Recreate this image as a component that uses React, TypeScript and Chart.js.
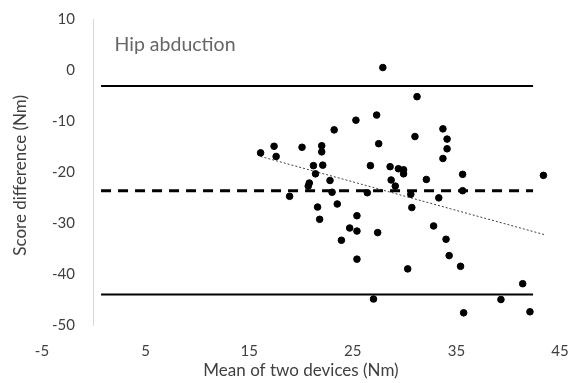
import React, { useEffect, useRef } from "react";
import { Chart, registerables } from "chart.js";

Chart.register(...registerables);

// Bland-Altman data: mean of the two devices (x) and score difference (y), Nm
const meanValues = [
  16.1, 17.4, 17.6, 20.1, 22.0, 22.0, 23.2, 25.3, 21.2, 22.1,
  21.4, 22.8, 20.8, 20.7, 18.9, 23.0, 21.6, 23.5, 25.4, 21.8,
  24.7, 25.4, 23.9, 25.4, 27.9, 31.2, 27.3, 27.5, 31.0, 33.7,
  34.1, 34.1, 33.7, 26.7, 28.6, 29.4, 29.9, 29.9, 28.7, 32.1,
  35.6, 43.4, 29.1, 26.4, 30.6, 35.6, 33.3, 30.7, 27.4, 32.8,
  34.0, 34.3, 35.4, 30.3, 41.4, 27.0, 39.3, 35.7, 42.1,
];
const diffValues = [
  -16.2, -14.9, -16.9, -15.1, -14.8, -16.0, -11.7, -9.8, -18.7, -18.6,
  -20.3, -21.6, -22.1, -22.7, -24.7, -23.9, -26.8, -26.2, -28.5, -29.2,
  -30.9, -31.5, -33.3, -37.0, 0.5, -5.2, -8.8, -14.4, -13.0, -11.5,
  -13.5, -15.4, -17.3, -18.7, -18.9, -19.3, -19.5, -20.3, -21.5, -21.4,
  -20.4, -20.6, -22.7, -24.0, -24.3, -23.6, -25.0, -26.9, -31.8, -30.5,
  -33.1, -36.3, -38.4, -38.9, -41.8, -44.8, -44.9, -47.5, -47.3,
];

// Limits of agreement and bias
const upperLimit = -3.1;
const meanBias = -23.6;
const lowerLimit = -43.9;
const limitLineX = [0.7, 42.4];

// Linear trend line (endpoints)
const trendX = [16.1, 43.5];
const trendY = [-16.9, -32.2];

// Axis ticks
const xTicks = [-5, 5, 15, 25, 35, 45];
const yTicks = [10, 0, -10, -20, -30, -40, -50];

const panelLabel = "Hip abduction";
const xTitle = "Mean of two devices (Nm)";
const yTitle = "Score difference (Nm)";

const FONT = "Lato, 'Open Sans', sans-serif";
const TEXT = "#404040";

export default function App() {
  const ref = useRef<HTMLCanvasElement | null>(null);

  useEffect(() => {
    if (!ref.current) return;
    const hLine = (y: number) => limitLineX.map((x) => ({ x, y }));

    const textPlugin = {
      id: "extraText",
      afterDraw(chart: any) {
        const { ctx, scales, chartArea } = chart;
        ctx.save();
        // panel label
        ctx.font = `19.5px ${FONT}`;
        ctx.fillStyle = "#666666";
        ctx.textAlign = "left";
        ctx.textBaseline = "middle";
        ctx.fillText(panelLabel, scales.x.getPixelForValue(2), scales.y.getPixelForValue(4.9));
        // y-axis title
        ctx.font = `17px ${FONT}`;
        ctx.fillStyle = TEXT;
        ctx.textAlign = "center";
        ctx.translate(21, (chartArea.top + chartArea.bottom) / 2 + 3);
        ctx.rotate(-Math.PI / 2);
        ctx.fillText(yTitle, 0, 0);
        ctx.restore();
      },
    };

    const chart = new Chart(ref.current, {
      type: "scatter",
      data: {
        datasets: [
          {
            data: meanValues.map((x, i) => ({ x, y: diffValues[i] })),
            backgroundColor: "#000",
            borderColor: "#000",
            pointRadius: 3.3,
            pointHoverRadius: 3.3,
            order: 0,
          },
          {
            data: hLine(upperLimit),
            showLine: true,
            borderColor: "#000",
            borderWidth: 2,
            pointRadius: 0,
            order: 1,
          },
          {
            data: hLine(meanBias),
            showLine: true,
            borderColor: "#000",
            borderWidth: 3,
            borderDash: [10, 7],
            pointRadius: 0,
            order: 1,
          },
          {
            data: hLine(lowerLimit),
            showLine: true,
            borderColor: "#000",
            borderWidth: 2,
            pointRadius: 0,
            order: 1,
          },
          {
            data: trendX.map((x, i) => ({ x, y: trendY[i] })),
            showLine: true,
            borderColor: "#404040",
            borderWidth: 1,
            borderDash: [2, 2],
            pointRadius: 0,
            order: 1,
          },
        ],
      },
      options: {
        animation: false,
        responsive: true,
        maintainAspectRatio: false,
        layout: { padding: { left: 22, right: 13, top: 19, bottom: 2 } },
        plugins: {
          legend: { display: false },
          tooltip: { enabled: false },
        },
        scales: {
          x: {
            type: "linear",
            position: "bottom",
            min: -5,
            max: 45,
            afterBuildTicks: (s: any) => {
              s.ticks = xTicks.map((v) => ({ value: v }));
            },
            grid: { display: false, drawTicks: true, tickLength: 17 },
            border: { display: false },
            ticks: {
              padding: 0,
              color: TEXT,
              font: { family: FONT, size: 15 },
            },
            title: {
              display: true,
              text: xTitle,
              color: TEXT,
              font: { family: FONT, size: 17 },
              padding: { top: 0, bottom: 0 },
            },
          },
          y: {
            type: "linear",
            position: "left",
            min: -50,
            max: 10,
            afterBuildTicks: (s: any) => {
              s.ticks = yTicks.map((v) => ({ value: v }));
            },
            grid: { display: false, drawTicks: false },
            border: { display: false },
            ticks: {
              mirror: true,
              crossAlign: "far",
              padding: 10,
              color: TEXT,
              font: { family: FONT, size: 15 },
            },
          },
          yAxisLine: {
            type: "linear",
            axis: "y",
            position: { x: 0 } as any,
            min: -50,
            max: 10,
            grid: { display: false, drawTicks: false },
            border: { display: true, color: "#d9d9d9", width: 1 },
            ticks: { display: false },
          },
        },
      },
      plugins: [textPlugin],
    });
    return () => chart.destroy();
  }, []);

  return (
    <div style={{ position: "fixed", left: 0, top: 0, width: 573, height: 383, background: "#fff" }}>
      <canvas ref={ref} />
    </div>
  );
}
